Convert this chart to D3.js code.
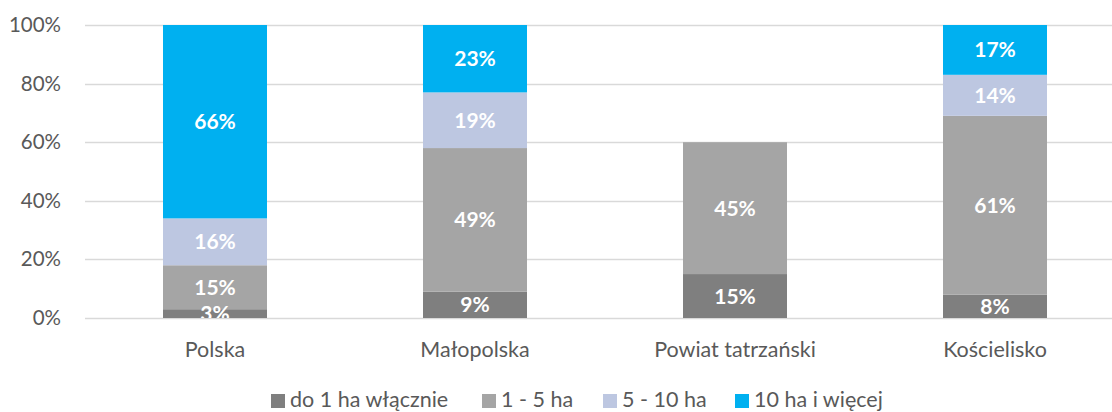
<!DOCTYPE html>
<html>
<head>
<meta charset="utf-8">
<script src="https://cdn.jsdelivr.net/npm/d3@7"></script>
<style>
  html, body { margin: 0; padding: 0; background: #fff; }
  svg { display: block; font-family: Lato, "Open Sans", sans-serif; }
</style>
</head>
<body>
<svg id="chart" width="1112" height="412"></svg>
<script>
// Farm size structure by area (share of holdings)
const categories = ["Polska", "Małopolska", "Powiat tatrzański", "Kościelisko"];
const seriesNames = ["do 1 ha włącznie", "1 - 5 ha", "5 - 10 ha", "10 ha i więcej"];
const upTo1ha   = [3, 9, 15, 8];
const from1to5  = [15, 49, 45, 61];
const from5to10 = [16, 19, 0, 14];
const over10    = [66, 23, 0, 17];
const seriesColors = ["#7f7f7f", "#a5a5a5", "#bdc7e1", "#00b0f0"];
const yTicks = [0, 20, 40, 60, 80, 100];

const seriesValues = [upTo1ha, from1to5, from5to10, over10];
const rows = categories.map((c, i) => {
  const r = { category: c };
  seriesNames.forEach((s, j) => { r[s] = seriesValues[j][i]; });
  return r;
});

const svg = d3.select("#chart");
const plot = { left: 85, right: 1125, top: 25, bottom: 318 };

const x = d3.scaleBand().domain(categories).range([plot.left, plot.right]).paddingInner(0.6).paddingOuter(0.3);
const y = d3.scaleLinear().domain([0, 100]).range([plot.bottom, plot.top]);
const color = d3.scaleOrdinal().domain(seriesNames).range(seriesColors);

const stacked = d3.stack().keys(seriesNames)(rows);

svg.append("defs").append("clipPath").attr("id", "plotClip")
  .append("rect").attr("x", plot.left).attr("y", plot.top - 2)
  .attr("width", plot.right - plot.left).attr("height", plot.bottom - plot.top + 2);

// gridlines
svg.append("g").selectAll("line").data(yTicks).join("line")
  .attr("x1", plot.left).attr("x2", plot.right)
  .attr("y1", d => Math.round(y(d)) + 0.5).attr("y2", d => Math.round(y(d)) + 0.5)
  .attr("stroke", "#d9d9d9").attr("stroke-width", 1.3);

// y axis labels
const yAxis = d3.axisLeft(y).tickValues(yTicks).tickFormat(d => d + "%").tickSize(0).tickPadding(0);
svg.append("g").attr("transform", `translate(${61},0)`).call(yAxis)
  .call(g => g.select(".domain").remove())
  .selectAll("text").attr("fill", "#595959").attr("font-size", 20.5).attr("font-family", "Lato, sans-serif");

// bars
const layers = svg.append("g").selectAll("g").data(stacked).join("g")
  .attr("fill", d => color(d.key));
layers.selectAll("rect").data(d => d.filter(p => p[1] - p[0] > 0)).join("rect")
  .attr("x", d => x(d.data.category))
  .attr("width", x.bandwidth())
  .attr("y", d => y(d[1]))
  .attr("height", d => y(d[0]) - y(d[1]));

// value labels
const labels = svg.append("g").attr("clip-path", "url(#plotClip)");
stacked.forEach(layer => {
  labels.selectAll(null).data(layer.filter(p => p[1] - p[0] > 0)).join("text")
    .attr("x", d => x(d.data.category) + x.bandwidth() / 2)
    .attr("y", d => y((d[0] + d[1]) / 2))
    .attr("dy", "0.36em")
    .attr("text-anchor", "middle")
    .attr("fill", "#fff")
    .attr("font-weight", "bold")
    .attr("font-size", 21)
    .text(d => (d[1] - d[0]) + "%");
});

// category axis
const xAxis = d3.axisBottom(x).tickSize(0).tickPadding(0);
svg.append("g").attr("transform", `translate(0,${plot.bottom + 39})`).call(xAxis)
  .call(g => g.select(".domain").remove())
  .selectAll("text").attr("fill", "#595959").attr("font-size", 21.5).attr("font-family", "Lato, sans-serif").attr("dy", 0);

// legend
const legendX = [271, 482, 603, 735];
const legend = svg.append("g").selectAll("g").data(seriesNames).join("g")
  .attr("transform", (d, i) => `translate(${legendX[i]},${407})`);
legend.append("rect").attr("x", 0).attr("y", -13).attr("width", 14).attr("height", 14)
  .attr("fill", d => color(d));
legend.append("text").attr("x", 19).attr("y", 0)
  .attr("fill", "#595959").attr("font-size", 21.5).text(d => d);
</script>
</body>
</html>
